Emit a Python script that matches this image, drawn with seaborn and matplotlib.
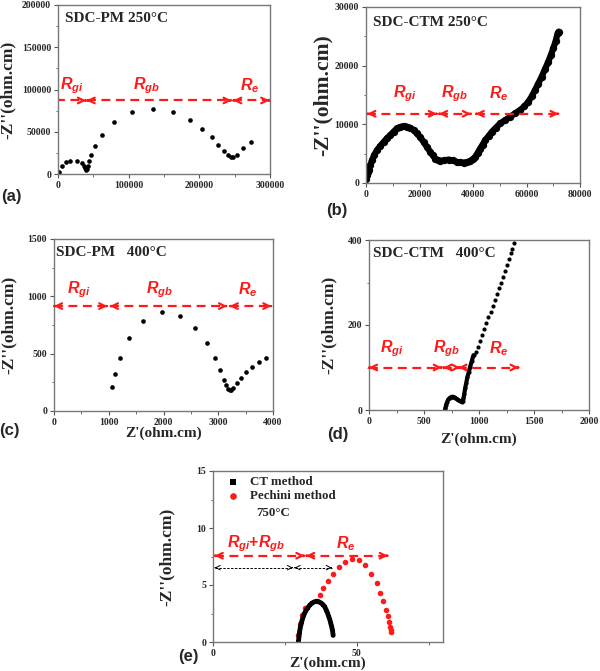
import matplotlib
matplotlib.use("Agg")
import matplotlib.pyplot as plt
import seaborn as sns
from matplotlib.ticker import MultipleLocator

# ---- data ----
# (a) SDC-PM 250 C
a_x = [1900, 5700, 10800, 17000, 26400, 33500, 36800, 38200, 39400, 40300, 41200,
       42300, 44300, 47200, 52800, 62300, 79200, 104200, 134000, 162300, 186800,
       204200, 217900, 226900, 234900, 240600, 244800, 248100, 252800, 262300, 273100]
a_y = [2400, 9000, 13800, 15700, 15700, 13000, 9800, 7500, 5600, 4600, 6500,
       9500, 15000, 22400, 32700, 45700, 61000, 72800, 76800, 72800, 63800,
       53500, 43300, 34300, 27600, 22800, 20500, 20500, 22800, 30700, 37400]

# (b) SDC-CTM 250 C
b_x = [0, 300, 700, 1000, 1600, 2240, 3100, 4100, 5300, 6600, 7800, 9080, 10300,
       11570, 12800, 14060, 15300, 16550, 17800, 19000, 20300, 21500, 22700, 24000,
       25000, 25900, 26800, 27700, 29300, 30850, 32400, 33960, 35200, 36450, 37700,
       38930, 39900, 40800, 41700, 42670, 43600, 44540, 45800, 47030, 48600, 50140,
       52000, 53870, 55700, 57600, 59200, 60700, 62000, 63190, 64400, 65680, 66900,
       68170, 69100, 70040, 70900, 71660, 72000]
b_y = [740, 1400, 1900, 2170, 3000, 3880, 4800, 5590, 6300, 7000, 7600, 8150, 8750,
       9300, 9550, 9700, 9600, 9400, 9000, 8440, 7800, 7000, 6200, 5300, 4700,
       4160, 3900, 3760, 3850, 3990, 3850, 3590, 3500, 3480, 3550, 3760, 4050,
       4450, 5100, 5870, 6550, 7300, 8000, 8720, 9450, 10150, 10700, 11290, 11850,
       12430, 13050, 13860, 14800, 15850, 16950, 18130, 19400, 20700, 21800, 22980,
       24200, 25550, 25800]

# (c) SDC-PM 400 C
c_x = [1064, 1112, 1204, 1368, 1629, 1970, 2304, 2584, 2790, 2942, 3040, 3100, 3149,
       3185, 3210, 3240, 3270, 3343, 3422, 3514, 3617, 3739, 3878]
c_y = [210, 320, 466, 635, 783, 862, 830, 728, 594, 466, 355, 274, 224,
       195, 181, 187, 201, 245, 291, 341, 384, 425, 466]

# (d) SDC-CTM 400 C
d_x = [692, 695, 701, 710, 722, 737, 752, 768, 783, 798, 813, 828, 844, 852, 859,
       866, 874, 884, 895, 908, 920, 935, 950, 971, 989, 1011, 1029, 1047, 1065,
       1086, 1105, 1126, 1144, 1162, 1184, 1202, 1220, 1235, 1253, 1272, 1287,
       1302, 1314]
d_y = [0, 5, 12, 19, 25, 29, 31, 31, 29, 26, 23.5, 21, 19.6, 22, 27.5,
       38, 51, 64, 78, 90, 102, 116, 129, 137, 149, 163, 176, 190, 204,
       218, 231, 245, 259, 273, 286, 300, 314, 328, 341, 355, 369,
       380, 392]

# (e) 750 C
ct_x = [29.7, 29.9, 30.1, 30.4, 30.8, 31.3, 31.8, 32.4, 33.0, 33.7, 34.5, 35.3, 36.2,
        36.9, 37.6, 38.3, 38.9, 39.4, 39.9, 40.3, 40.7, 41.0, 41.3, 41.6, 41.8]
ct_y = [0.0, 0.45, 0.88, 1.3, 1.75, 2.15, 2.49, 2.78, 3.01, 3.25, 3.42, 3.53, 3.57,
        3.52, 3.42, 3.27, 3.07, 2.8, 2.49, 2.2, 1.90, 1.6, 1.32, 0.95, 0.58]
pe_x = [29.5, 30.2, 30.9, 31.9, 36.0, 37.3, 38.4, 40.0, 41.7, 43.9, 45.8, 48.3, 50.7,
        53.0, 55.1, 56.9, 58.2, 59.1, 60.2, 60.8, 61.2, 61.6, 61.8, 61.9]
pe_y = [0.64, 1.58, 2.34, 2.95, 3.57, 4.12, 4.74, 5.32, 5.94, 6.58, 6.99, 7.25, 7.16,
        6.73, 5.99, 5.18, 4.30, 3.57, 2.84, 2.28, 1.75, 1.32, 1.02, 0.88]

# annotation arrows: (x0, x1) per region, and the height
a_arrows, a_arrow_y = [(-2800, 39600), (40500, 245700), (248000, 299000)], 87000
b_arrows, b_arrow_y = [(500, 26500), (27300, 39200), (41000, 72000)], 11800
c_arrows, c_arrow_y = [(0, 973), (1021, 3161), (3210, 3970)], 915
d_arrows, d_arrow_y = [(0, 662), (677, 829), (813, 1360)], 100
e_arrows, e_arrow_y = [(0.6, 31.8), (32.4, 60.8)], 7.57
e_black_arrows, e_black_y = [(0.6, 27.8), (28.4, 41.3)], 6.52

sns.set_theme(style="ticks")
plt.rcParams["font.family"] = ["Liberation Serif", "DejaVu Serif"]
plt.rcParams["font.weight"] = "bold"
plt.rcParams["mathtext.fontset"] = "custom"
plt.rcParams["mathtext.it"] = "Liberation Sans:italic:bold"
plt.rcParams["mathtext.rm"] = "Liberation Sans:bold"
plt.rcParams["axes.edgecolor"] = "#777777"
plt.rcParams["axes.linewidth"] = 1.0

RED = "#ff1a1a"


def darrow(ax, x0, x1, y, color, lw, dash, hs):
    ax.plot([x0, x1], [y, y], color=color, lw=lw, ls=(0, dash), solid_capstyle="butt")
    for p, q in ((x0, x1), (x1, x0)):
        ax.annotate("", xy=(p, y), xytext=(p + (q - p) * 0.01, y),
                    arrowprops=dict(arrowstyle="->", color=color, lw=lw,
                                    shrinkA=0, shrinkB=0, mutation_scale=hs))


def style(ax, xlim, ylim, xmaj, ymaj, xmin=None, ymin=None):
    ax.set_xlim(*xlim)
    ax.set_ylim(*ylim)
    ax.xaxis.set_major_locator(MultipleLocator(xmaj))
    ax.yaxis.set_major_locator(MultipleLocator(ymaj))
    ax.xaxis.set_minor_locator(MultipleLocator(xmin or xmaj / 2))
    ax.yaxis.set_minor_locator(MultipleLocator(ymin or ymaj / 2))
    ax.ticklabel_format(style="plain", useOffset=False)
    ax.tick_params(which="major", length=3, width=0.8, labelsize=7, pad=2, color="#555555")
    ax.tick_params(which="minor", length=1.8, width=0.6, color="#555555")
    for lab in ax.get_xticklabels() + ax.get_yticklabels():
        lab.set_fontweight("bold")
    ax.set_xlabel("")
    ax.set_ylabel("")


def rlab(ax, x, y, s):
    ax.text(x, y, s, color=RED, fontsize=11.5, ha="center", va="center")


fig = plt.figure(figsize=(6, 6.71), dpi=100)
W, H = 600, 671


def make_ax(x0, x1, y0, y1):
    return fig.add_axes([x0 / W, 1 - y1 / H, (x1 - x0) / W, (y1 - y0) / H])


ax_a = make_ax(58, 270, 5, 174)
ax_b = make_ax(366, 580, 7, 183)
ax_c = make_ax(54, 273, 239, 411)
ax_d = make_ax(369, 589, 240, 410)
ax_e = make_ax(213, 443, 471, 642)

# (a)
sns.scatterplot(x=a_x, y=a_y, ax=ax_a, color="black", s=11, linewidth=0)
style(ax_a, (0, 300000), (0, 200000), 100000, 50000)
for x0, x1 in a_arrows:
    darrow(ax_a, x0, x1, a_arrow_y, RED, 1.6, (4, 2.5), 10)
rlab(ax_a, 19000, 105000, "$R_{gi}$")
rlab(ax_a, 125000, 105000, "$R_{gb}$")
rlab(ax_a, 272000, 105000, "$R_e$")
ax_a.text(0.033, 0.92, "SDC-PM 250°C", transform=ax_a.transAxes, fontsize=11,
          fontweight="bold", va="center")

# (b)
sns.lineplot(x=b_x, y=b_y, ax=ax_b, color="black", lw=4.5, sort=False)
sns.scatterplot(x=b_x, y=b_y, ax=ax_b, color="black", s=28, linewidth=0)
style(ax_b, (0, 80000), (0, 30000), 20000, 10000)
for x0, x1 in b_arrows:
    darrow(ax_b, x0, x1, b_arrow_y, RED, 1.6, (4, 2.5), 10)
rlab(ax_b, 14500, 15200, "$R_{gi}$")
rlab(ax_b, 33000, 15200, "$R_{gb}$")
rlab(ax_b, 49500, 15200, "$R_e$")
ax_b.text(0.033, 0.91, "SDC-CTM 250°C", transform=ax_b.transAxes, fontsize=11,
          fontweight="bold", va="center")

# (c)
sns.scatterplot(x=c_x, y=c_y, ax=ax_c, color="black", s=11, linewidth=0)
style(ax_c, (0, 4000), (0, 1500), 1000, 500)
for x0, x1 in c_arrows:
    darrow(ax_c, x0, x1, c_arrow_y, RED, 1.6, (4, 2.5), 10)
rlab(ax_c, 462, 1054, "$R_{gi}$")
rlab(ax_c, 1921, 1054, "$R_{gb}$")
rlab(ax_c, 3544, 1054, "$R_e$")
ax_c.text(0.01, 0.924, "SDC-PM   400°C", transform=ax_c.transAxes, fontsize=11,
          fontweight="bold", va="center")

# (d)
sns.lineplot(x=d_x[:23], y=d_y[:23], ax=ax_d, color="black", lw=3, sort=False)
sns.scatterplot(x=d_x, y=d_y, ax=ax_d, color="black", s=9, linewidth=0)
style(ax_d, (0, 2000), (0, 400), 500, 200, 250, 100)
for x0, x1 in d_arrows:
    darrow(ax_d, x0, x1, d_arrow_y, RED, 1.6, (4, 2.5), 10)
rlab(ax_d, 206, 145, "$R_{gi}$")
rlab(ax_d, 707, 145, "$R_{gb}$")
rlab(ax_d, 1178, 145, "$R_e$")
ax_d.text(0.018, 0.92, "SDC-CTM   400°C", transform=ax_d.transAxes, fontsize=11,
          fontweight="bold", va="center")

# (e)
sns.lineplot(x=ct_x, y=ct_y, ax=ax_e, color="black", lw=3.5, sort=False)
sns.scatterplot(x=ct_x, y=ct_y, ax=ax_e, color="black", s=10, marker="s",
                linewidth=0, label="CT method")
sns.scatterplot(x=pe_x, y=pe_y, ax=ax_e, color=RED, s=16, linewidth=0,
                label="Pechini method")
style(ax_e, (0, 80), (0, 15), 50, 5, 25, 2.5)
for x0, x1 in e_arrows:
    darrow(ax_e, x0, x1, e_arrow_y, RED, 1.6, (4, 2.5), 10)
for x0, x1 in e_black_arrows:
    darrow(ax_e, x0, x1, e_black_y, "black", 0.7, (2.5, 1.5), 8)
rlab(ax_e, 15.0, 8.6, "$R_{gi}\\mathrm{+}R_{gb}$")
rlab(ax_e, 46.3, 8.6, "$R_e$")
ax_e.legend(loc="upper left", bbox_to_anchor=(0.02, 1.015), frameon=False,
            prop={"family": "Liberation Serif", "weight": "bold", "size": 9.3},
            handletextpad=0.7, markerscale=1.2, labelspacing=0.15,
            handlelength=1.2, borderaxespad=0.2)
ax_e.text(0.19, 0.755, "750°C", transform=ax_e.transAxes, fontsize=9.3,
          fontweight="bold", va="center")

# axis titles
ylab = "-Z''(ohm.cm)"
for ax, xpos, fs in ((ax_a, -0.2, 12.5), (ax_b, -0.154, 15.5), (ax_c, -0.17, 12.5),
                     (ax_d, -0.145, 12.5), (ax_e, -0.165, 12.5)):
    ax.set_ylabel(ylab, fontsize=fs, fontweight="bold")
    ax.yaxis.set_label_coords(xpos, 0.5)
for ax, ypos in ((ax_c, -0.093), (ax_d, -0.135), (ax_e, -0.085)):
    ax.set_xlabel("Z'(ohm.cm)", fontsize=11, fontweight="bold")
    ax.xaxis.set_label_coords(0.5, ypos)

# panel letters
for s, x, y in (("(a)", 11, 197), ("(b)", 337, 210), ("(c)", 9, 431),
                ("(d)", 338, 434), ("(e)", 188, 657)):
    fig.text(x / W, 1 - y / H, s, family="Liberation Sans", fontweight="bold",
             fontsize=12, ha="center", va="center")

fig.savefig("out.png", dpi=100)
